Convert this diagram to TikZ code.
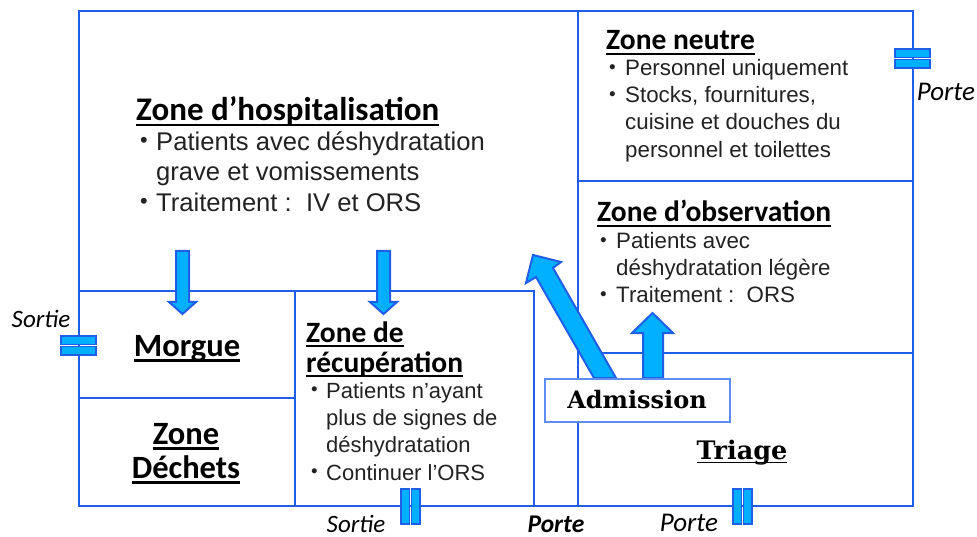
\documentclass[tikz,border=0pt]{standalone}
\usepackage{fontspec}
\setmainfont{Liberation Sans}
\newfontfamily\headfont{Carlito}
\newfontfamily\serifhead{DejaVu Serif}
\definecolor{wall}{HTML}{1F5FE8}
\definecolor{arrowfill}{HTML}{00B0FF}
\definecolor{boxline}{HTML}{5B8EF0}
\definecolor{txt}{HTML}{222222}
\newcommand{\blt}{\makebox[16pt][l]{\raisebox{.1em}{\scalebox{.85}{•}}}}
\newcommand{\ind}{\hspace*{16pt}}
\newcommand{\ulx}[1]{\leavevmode\setbox0\hbox{#1}\dp0=0pt \vtop{\box0\kern.1em\hrule height .07em}}
\tikzset{
  wallline/.style={draw=wall,line width=2.6pt},
  flow/.style={draw=wall,fill=arrowfill,line width=2pt,line join=miter},
  doorleaf/.style={draw=wall,fill=arrowfill,line width=1.8pt},
  txtblock/.style={anchor=north west,inner sep=0pt,align=left,text=txt},
  heading/.style={anchor=base west,inner sep=0pt,font=\headfont\bfseries\fontsize{29.5}{30}\selectfont,align=left,text=black},
  centered/.style={anchor=base,inner sep=0pt,align=center,font=\headfont\bfseries\fontsize{32.5}{34}\selectfont,text=black},
  doorlabel/.style={inner sep=0pt,font=\headfont\itshape\fontsize{25}{26}\selectfont,text=black},
}
\begin{document}
\begin{tikzpicture}[x=1pt,y=-1pt]
\useasboundingbox (0,0) rectangle (977,537);
% walls
\coordinate (nw) at (79,11); \coordinate (ne) at (913,11);
\coordinate (se) at (913,506); \coordinate (sw) at (79,506);
\draw[wallline] (nw) rectangle (se);
\draw[wallline] (578,11) -- (578,506);
\draw[wallline] (578,181) -- (913,181);
\draw[wallline] (578,353) -- (913,353);
\draw[wallline] (79,291) -- (534,291) -- (534,506);
\draw[wallline] (295,291) -- (295,506);
\draw[wallline] (79,398) -- (295,398);
% arrows
\draw[flow] (176,251) -- (189,251) -- (189,302) -- (196,302) -- (182.5,314) -- (169,302) -- (176,302) -- cycle;
\draw[flow] (377,251) -- (390,251) -- (390,302) -- (397,302) -- (383.5,314) -- (370,302) -- (377,302) -- cycle;
\draw[flow] (594,378) -- (536,277) -- (526,283) -- (533,255) -- (561,262) -- (553,268) -- (616,378) -- cycle;
\draw[flow] (643,378) -- (643,333) -- (632,333) -- (652.5,313) -- (673,333) -- (663,333) -- (663,378) -- cycle;
% admission
\node[draw=boxline,fill=white,line width=2pt,minimum width=185pt,minimum height=43pt,inner sep=0pt,font=\serifhead\bfseries\fontsize{24}{28}\selectfont] (admission) at (637,400) {Admission};
% doors
\draw[doorleaf] (61,336) rectangle (96,344.5);
\draw[doorleaf] (61,346.5) rectangle (96,355);
\draw[doorleaf] (895,49) rectangle (930,57.5);
\draw[doorleaf] (895,59.5) rectangle (930,68);
\draw[doorleaf] (401,489) rectangle (409.5,524);
\draw[doorleaf] (411.5,489) rectangle (420,524);
\draw[doorleaf] (733,489) rectangle (741.5,524);
\draw[doorleaf] (743.5,489) rectangle (752,524);
% hospitalisation
\node[heading,font=\headfont\bfseries\fontsize{33}{36}\selectfont] (hosph) at (136,120.5) {\ulx{Zone d’hospitalisation}};
\node[txtblock,font=\fontsize{25.6}{30.5}\selectfont] (hospb) at (140,131) {\blt Patients avec déshydratation\\\ind grave et vomissements\\\blt Traitement :\ \ IV et ORS};
% neutre
\node[heading] (neutreh) at (606,50) {\ulx{Zone neutre}};
\node[txtblock,font=\fontsize{22.3}{27.3}\selectfont] (neutreb) at (609,59) {\blt Personnel uniquement\\\blt Stocks, fournitures,\\\ind cuisine et douches du\\\ind personnel et toilettes};
% observation
\node[heading] (obsh) at (597,222) {\ulx{Zone d’observation}};
\node[txtblock,font=\fontsize{22.3}{27}\selectfont] (obsb) at (600,232) {\blt Patients avec\\\ind déshydratation légère\\\blt Traitement :\ \ ORS};
% recuperation
\node[heading] (recuph1) at (306,342) {\ulx{Zone de}};
\node[heading] (recuph2) at (306,372) {\ulx{récupération}};
\node[txtblock,font=\fontsize{22}{27.3}\selectfont] (recupb) at (311,382) {\makebox[15pt][l]{\raisebox{.1em}{\scalebox{.85}{•}}}Patients n’ayant\\\hspace*{15pt}plus de signes de\\\hspace*{15pt}déshydratation\\\makebox[15pt][l]{\raisebox{.1em}{\scalebox{.85}{•}}}Continuer l’ORS};
% centred labels
\node[centered] (morgue) at (187,356) {\ulx{Morgue}};
\node[centered] (zone) at (186,444) {\ulx{Zone}};
\node[centered] (dechets) at (186,478) {\ulx{Déchets}};
\node[anchor=base,inner sep=0pt,font=\serifhead\bfseries\fontsize{25.5}{28}\selectfont] (triage) at (742,459) {\ulx{Triage}};
% door labels
\node[doorlabel] (s1) at (41,319) {Sortie};
\node[doorlabel] (s2) at (356,524) {Sortie};
\node[doorlabel,font=\headfont\itshape\fontsize{27}{28}\selectfont] (p1) at (946,92) {Porte};
\node[doorlabel,font=\headfont\itshape\fontsize{27}{28}\selectfont] (p2) at (689,523) {Porte};
\node[doorlabel,font=\headfont\bfseries\itshape\fontsize{25.5}{26}\selectfont] (p3) at (556,524) {Porte};
\end{tikzpicture}
\end{document}
